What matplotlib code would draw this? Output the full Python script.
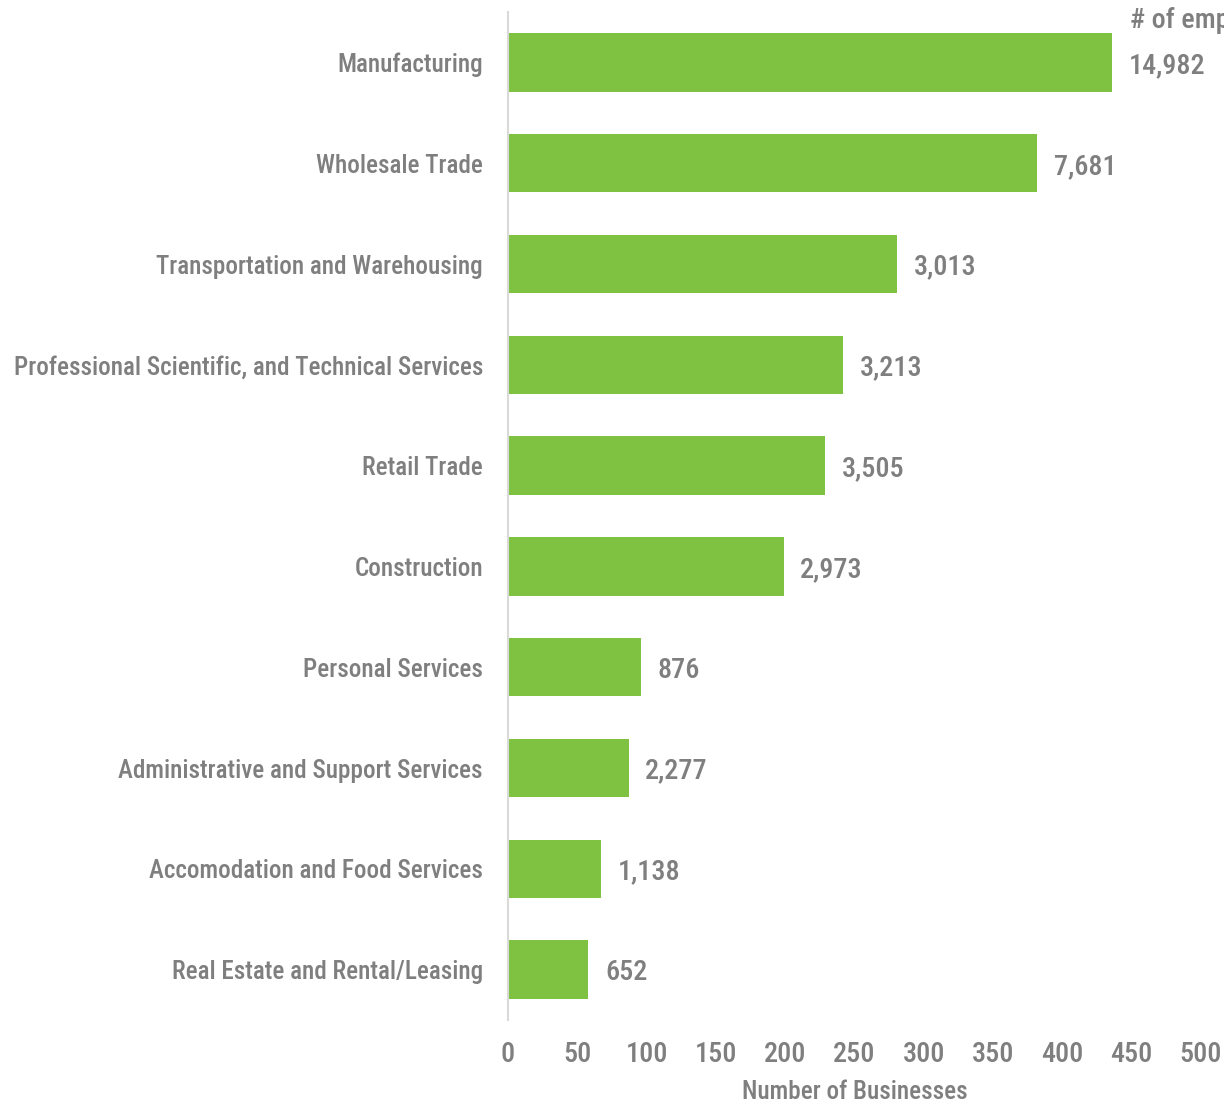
import matplotlib
matplotlib.use("Agg")
import matplotlib.pyplot as plt
from matplotlib import font_manager

# pick a condensed face that is installed
installed = {f.name for f in font_manager.fontManager.ttflist}
wanted = ["Roboto Condensed", "Archivo Narrow", "PT Sans Narrow", "Barlow Semi Condensed",
          "Liberation Sans Narrow", "Open Sans Condensed", "DejaVu Sans"]
face = next(n for n in wanted if n in installed)
plt.rcParams['font.family'] = [face, 'DejaVu Sans']
plt.rcParams['font.weight'] = 500

# data, top to bottom
industries = ["Manufacturing", "Wholesale Trade", "Transportation and Warehousing",
              "Professional Scientific, and Technical Services", "Retail Trade",
              "Construction", "Personal Services", "Administrative and Support Services",
              "Accomodation and Food Services", "Real Estate and Rental/Leasing"]
businesses = [436, 382, 281, 242, 229, 199, 96, 87, 67, 58]
employees = ["14,982", "7,681", "3,013", "3,213", "3,505", "2,973", "876", "2,277", "1,138", "652"]

green = "#7fc241"
grey = "#7f7f7f"

fig = plt.figure(figsize=(12.24, 11.07), dpi=100)

# size the text so the longest category is about as wide as in the original
r = fig.canvas.get_renderer()
probe = fig.text(0, 0, industries[3], fontsize=20)
w = probe.get_window_extent(renderer=r).width
probe.remove()
fs = min(24, 20 * 471 / w)
fs_val = fs * 1.12

ax = fig.add_axes([0.415, 0.0786, 0.566, 0.9105])

ypos = list(range(len(industries)))[::-1]
ax.barh(ypos, businesses, height=0.58, color=green)

for y, v, lab in zip(ypos, businesses, employees):
    ax.annotate(lab, (v, y), xytext=(12, 0), textcoords="offset points",
                va="center_baseline", ha="left", fontsize=fs_val, color=grey,
                annotation_clip=False)

fig.text(1130 / 1224, 1 - 20 / 1107, "# of employees", fontsize=fs_val, color=grey,
         va="center", ha="left")

ax.set_xlim(0, 500)
ax.set_ylim(-0.5, len(industries) - 0.5)
ax.set_xticks(range(0, 501, 50))
ax.set_yticks(ypos)
ax.set_yticklabels(industries)
ax.tick_params(axis="both", length=0, labelsize=fs, labelcolor=grey)
ax.tick_params(axis="x", pad=15, labelsize=fs_val)
ax.tick_params(axis="y", pad=18)

for s in ["top", "right", "bottom"]:
    ax.spines[s].set_visible(False)
ax.spines["left"].set_color("#d9d9d9")
ax.spines["left"].set_linewidth(1.5)

ax.set_xlabel("Number of Businesses", fontsize=fs, color=grey, labelpad=9, fontweight=500)

fig.savefig("out.png", dpi=100)
